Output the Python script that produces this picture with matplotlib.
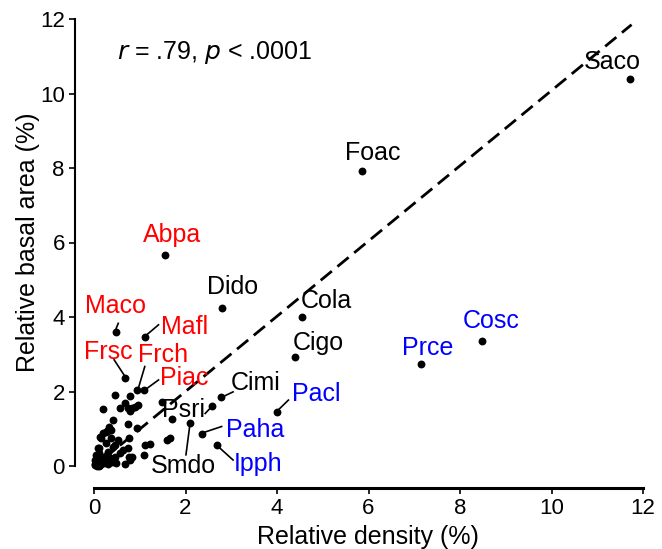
import matplotlib
matplotlib.use("Agg")
import matplotlib.pyplot as plt

plt.rcParams['font.family'] = ['Liberation Sans', 'DejaVu Sans']

# Labeled species: name, density, basal area, colour, label position
lab_names = ["Saco", "Foac", "Abpa", "Dido", "Cola", "Cigo", "Cosc", "Prce",
             "Cimi", "Pacl", "Paha", "Ipph", "Smdo", "Psri",
             "Maco", "Mafl", "Frsc", "Frch", "Piac"]
lab_x = [11.72, 5.86, 1.55, 2.80, 4.55, 4.39, 8.48, 7.15,
         2.78, 4.00, 2.37, 2.68, 2.10, 2.57,
         0.47, 1.11, 0.67, 0.95, 1.09]
lab_y = [10.39, 7.92, 5.66, 4.25, 4.00, 2.92, 3.36, 2.74,
         1.84, 1.46, 0.87, 0.56, 1.15, 1.62,
         3.60, 3.46, 2.36, 2.05, 2.03]
lab_color = ["black", "black", "red", "black", "black", "black", "blue", "blue",
             "black", "blue", "blue", "blue", "black", "black",
             "red", "red", "red", "red", "red"]
text_x = [11.32, 6.10, 1.70, 3.02, 5.09, 4.90, 8.68, 7.30,
          3.54, 4.85, 3.52, 3.58, 1.95, 1.95,
          0.48, 1.97, 0.31, 1.51, 1.97]
text_y = [10.85, 8.40, 6.20, 4.81, 4.43, 3.30, 3.89, 3.17,
          2.23, 1.93, 0.97, 0.05, 0.00, 1.50,
          4.30, 3.73, 3.06, 2.98, 2.36]
# leader lines
leader_names = ["Maco", "Mafl", "Frsc", "Frch", "Piac", "Cimi", "Psri", "Smdo", "Paha", "Ipph", "Pacl"]
leader_x0 = [0.47, 1.15, 0.68, 0.97, 1.11, 2.75, 2.57, 2.10, 2.35, 2.68, 3.99]
leader_y0 = [3.65, 3.52, 2.40, 2.09, 2.04, 1.82, 1.59, 1.15, 0.88, 0.56, 1.46]
leader_x1 = [0.53, 1.41, 0.44, 1.11, 1.41, 3.04, 2.43, 2.01, 2.79, 3.04, 4.25]
leader_y1 = [3.83, 3.79, 2.85, 2.67, 2.31, 1.99, 1.41, 0.30, 1.06, 0.16, 1.77]

# Unlabeled species
other_x = [0.46, 0.79, 0.20, 0.57, 0.68, 0.75, 0.82, 0.90, 0.97, 0.79,
           0.42, 0.75, 0.35, 1.48, 1.70, 0.93, 1.59, 1.66, 1.11, 1.22,
           1.09, 0.38, 0.27, 0.20, 0.16, 0.38, 0.52, 0.27, 0.42, 0.12,
           0.56, 0.74, 0.31, 0.78, 0.67, 0.49, 0.63, 0.82, 0.77, 0.14,
           0.28, 0.33, 0.77, 0.09, 0.45,
           0.02, 0.05, 0.08, 0.10, 0.12, 0.15, 0.18, 0.22, 0.25, 0.30,
           0.05, 0.02, 0.35, 0.28, 0.10, 0.40, 0.45, 0.03, 0.06, 0.14,
           0.20, 0.33]
other_y = [1.91, 1.88, 1.52, 1.55, 1.68, 1.55, 1.57, 1.59, 1.64, 1.48,
           1.23, 1.12, 0.97, 1.73, 1.25, 1.01, 0.70, 0.74, 0.56, 0.59,
           0.29, 0.97, 0.92, 0.88, 0.74, 0.74, 0.70, 0.61, 0.52, 0.48,
           0.34, 0.48, 0.38, 0.16, 0.05, 0.07, 0.42, 0.23, 0.25, 0.77,
           0.93, 1.06, 0.75, 0.47, 0.56,
           0.02, 0.10, 0.05, 0.20, 0.00, 0.12, 0.25, 0.08, 0.18, 0.05,
           0.30, 0.15, 0.22, 0.30, 0.35, 0.10, 0.25, 0.06, 0.01, 0.03,
           0.13, 0.12]

# Regression line
reg_x = [0.2, 11.75]
reg_slope = 1.01
reg_intercept = -0.02

W, H = 662, 549
fig = plt.figure(figsize=(W / 100, H / 100), dpi=100)
ax = fig.add_axes([94 / W, 1 - 466 / H, (643 - 94) / W, (466 - 19) / H])
ax.set_xlim(0, 12)
ax.set_ylim(0, 12)

ax.plot(reg_x, [reg_intercept + reg_slope * v for v in reg_x], color="black",
        lw=2.0, linestyle=(0, (5.2, 2.6)), clip_on=False, zorder=2)

ax.scatter(other_x, other_y, s=32, color="black", clip_on=False, zorder=3, linewidths=0)
ax.scatter(lab_x, lab_y, s=32, color="black", clip_on=False, zorder=3, linewidths=0)

for i in range(len(leader_names)):
    ax.plot([leader_x0[i], leader_x1[i]], [leader_y0[i], leader_y1[i]],
            color="black", lw=1.2, clip_on=False, zorder=3)

for n, tx, ty, c in zip(lab_names, text_x, text_y, lab_color):
    ax.text(tx, ty, n, color=c, fontsize=18, ha="center", va="center", zorder=4)

ax.text(0.5, 11.1, r"$\it{r}$ = .79, $\it{p}$ < .0001", fontsize=18, ha="left", va="center")

for s in ["top", "right"]:
    ax.spines[s].set_visible(False)
ax.spines["left"].set_position(("outward", 14))
ax.spines["bottom"].set_position(("outward", 16))
ax.spines["left"].set_bounds(0, 12)
ax.spines["bottom"].set_bounds(0, 12)
ax.spines["left"].set_linewidth(1.5)
ax.spines["bottom"].set_linewidth(2.2)
ax.set_xticks(range(0, 13, 2))
ax.set_yticks(range(0, 13, 2))
ax.tick_params(direction="out", length=4, width=1.2, labelsize=16, pad=3)
ax.set_xlabel("Relative density (%)", fontsize=18, va="center")
ax.set_ylabel("Relative basal area (%)", fontsize=18, va="center")
ax.xaxis.set_label_coords((368 - 94) / 549, (466 - 537) / 447)
ax.yaxis.set_label_coords((28 - 94) / 549, (466 - 242) / 447)

fig.savefig("out.png", dpi=100)
